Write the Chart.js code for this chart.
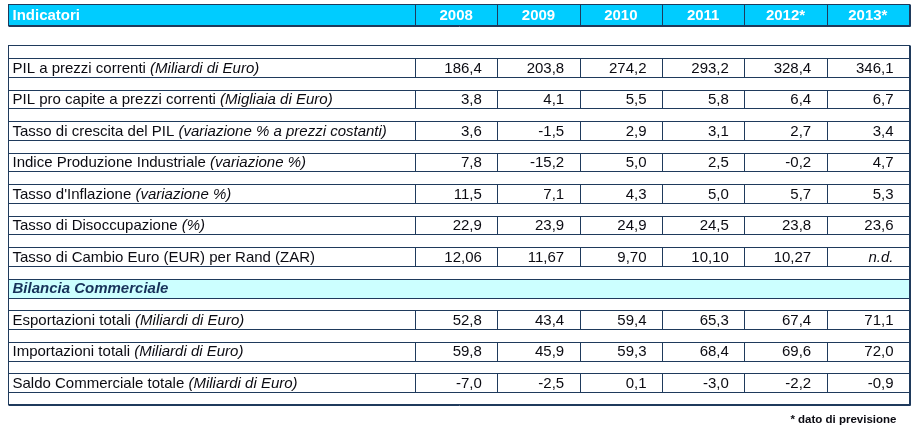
<!DOCTYPE html>
<html>
<head>
<meta charset="utf-8">
<title>Indicatori</title>
<script src="https://cdn.jsdelivr.net/npm/chart.js@4/dist/chart.umd.min.js"></script>
<style>
  html, body { margin: 0; padding: 0; background: #fff; }
  #wrap { width: 920px; height: 432px; }
</style>
</head>
<body>
<div id="wrap"><canvas id="tbl" width="920" height="432"></canvas></div>
<script>
// Indicatori economici — tabella disegnata sulle scale di Chart.js
const years = ['2008', '2009', '2010', '2011', '2012*', '2013*'];

const pilCorrenti    = [186.4, 203.8, 274.2, 293.2, 328.4, 346.1];
const pilProCapite   = [3.8, 4.1, 5.5, 5.8, 6.4, 6.7];
const crescitaPil    = [3.6, -1.5, 2.9, 3.1, 2.7, 3.4];
const produzioneInd  = [7.8, -15.2, 5.0, 2.5, -0.2, 4.7];
const inflazione     = [11.5, 7.1, 4.3, 5.0, 5.7, 5.3];
const disoccupazione = [22.9, 23.9, 24.9, 24.5, 23.8, 23.6];
const cambioEurZar   = [12.06, 11.67, 9.70, 10.10, 10.27, null];
const esportazioni   = [52.8, 43.4, 59.4, 65.3, 67.4, 71.1];
const importazioni   = [59.8, 45.9, 59.3, 68.4, 69.6, 72.0];
const saldo          = [-7.0, -2.5, 0.1, -3.0, -2.2, -0.9];

const rows = [
  { label: 'PIL a prezzi correnti', unit: '(Miliardi di Euro)', values: pilCorrenti, dec: 1 },
  { label: 'PIL pro capite a prezzi correnti', unit: '(Migliaia di Euro)', values: pilProCapite, dec: 1 },
  { label: 'Tasso di crescita del PIL', unit: '(variazione % a prezzi costanti)', values: crescitaPil, dec: 1 },
  { label: 'Indice Produzione Industriale', unit: '(variazione %)', values: produzioneInd, dec: 1 },
  { label: "Tasso d'Inflazione", unit: '(variazione %)', values: inflazione, dec: 1 },
  { label: 'Tasso di Disoccupazione', unit: '(%)', values: disoccupazione, dec: 1 },
  { label: 'Tasso di Cambio Euro (EUR) per Rand (ZAR)', unit: '', values: cambioEurZar, dec: 2 },
  { section: 'Bilancia Commerciale' },
  { label: 'Esportazioni totali', unit: '(Miliardi di Euro)', values: esportazioni, dec: 1 },
  { label: 'Importazioni totali', unit: '(Miliardi di Euro)', values: importazioni, dec: 1 },
  { label: 'Saldo Commerciale totale', unit: '(Miliardi di Euro)', values: saldo, dec: 1 }
];

// layout in axis units: a year column is 1 unit wide, a table line is 1 unit high
const LABEL_W = 4.944;
const ROW_H = 0.3;           // half height of a data row
const HEADER_Y = -1.68, HEADER_H = 0.335;
const BODY_TOP = -0.714, BODY_BOTTOM = 10.68;

const FONT = '"Liberation Sans", Arial, Helvetica, sans-serif';
const NAVY = '#1f3a5c';
const CYAN = '#00ccff';
const PALE = '#ccffff';
const INK = '#0b0b12';

function fmt(v, dec) {
  if (v === null) return 'n.d.';
  return v.toFixed(dec).replace('.', ',');
}

const tablePlugin = {
  id: 'tablePlugin',
  afterDraw(chart) {
    const ctx = chart.ctx;
    const X = v => chart.scales.x.getPixelForValue(v);
    const Y = v => chart.scales.y.getPixelForValue(v);
    const px = v => Math.round(v) + 0.5;
    const edges = [0, LABEL_W];
    years.forEach((y, j) => edges.push(LABEL_W + j + 1));
    const left = px(X(0)), right = px(X(edges[edges.length - 1]));

    ctx.save();
    ctx.lineWidth = 1;
    ctx.strokeStyle = NAVY;

    const hline = (y, x0, x1) => { ctx.beginPath(); ctx.moveTo(x0, y); ctx.lineTo(x1, y); ctx.stroke(); };
    const vline = (x, y0, y1) => { ctx.beginPath(); ctx.moveTo(x, y0); ctx.lineTo(x, y1); ctx.stroke(); };

    // header band
    const hTop = px(Y(HEADER_Y - HEADER_H)), hBot = px(Y(HEADER_Y + HEADER_H));
    ctx.fillStyle = CYAN;
    ctx.fillRect(left, hTop, right - left, hBot - hTop);
    ctx.strokeRect(left, hTop, right - left, hBot - hTop);
    hline(hBot + 1, left, right + 1);
    vline(right + 1, hTop, hBot + 1);
    for (let k = 1; k < edges.length - 1; k++) vline(px(X(edges[k])), hTop, hBot);

    ctx.fillStyle = '#fff';
    ctx.textBaseline = 'middle';
    ctx.font = 'bold 15px ' + FONT;
    const hMid = Y(HEADER_Y) + 1;
    ctx.textAlign = 'left';
    ctx.fillText('Indicatori', left + 4, hMid);
    ctx.textAlign = 'center';
    years.forEach((y, j) => ctx.fillText(y, X(LABEL_W + j + 0.5), hMid));

    // body
    const bTop = px(Y(BODY_TOP)), bBot = px(Y(BODY_BOTTOM));
    rows.forEach((r, i) => {
      if (!r.section) return;
      ctx.fillStyle = PALE;
      const y0 = px(Y(i - ROW_H)), y1 = px(Y(i + ROW_H));
      ctx.fillRect(left, y0, right - left, y1 - y0);
    });
    ctx.strokeRect(left, bTop, right - left, bBot - bTop);
    hline(bBot + 1, left, right + 1);
    vline(right + 1, bTop, bBot + 1);

    rows.forEach((r, i) => {
      const y0 = px(Y(i - ROW_H)), y1 = px(Y(i + ROW_H));
      const mid = Y(i) + 1;
      hline(y0, left, right);
      hline(y1, left, right);
      ctx.textBaseline = 'middle';
      ctx.textAlign = 'left';
      if (r.section) {
        ctx.fillStyle = '#17325a';
        ctx.font = 'italic bold 15px ' + FONT;
        ctx.fillText(r.section, left + 4, mid);
        return;
      }
      for (let k = 1; k < edges.length - 1; k++) vline(px(X(edges[k])), y0, y1);
      ctx.fillStyle = INK;
      ctx.font = '15px ' + FONT;
      ctx.fillText(r.label, left + 4, mid);
      if (r.unit) {
        const w = ctx.measureText(r.label + ' ').width;
        ctx.font = 'italic 15px ' + FONT;
        ctx.fillText(r.unit, left + 4 + w, mid);
      }
      ctx.textAlign = 'right';
      r.values.forEach((v, j) => {
        ctx.font = (v === null ? 'italic ' : '') + '15px ' + FONT;
        ctx.fillText(fmt(v, r.dec), X(LABEL_W + j + 1) - 15.5, mid);
      });
    });

    // footnote
    ctx.fillStyle = INK;
    ctx.font = 'bold 11.5px ' + FONT;
    ctx.textAlign = 'right';
    ctx.fillText('* dato di previsione', right - 13, bBot + 15);
    ctx.restore();
  }
};

new Chart(document.getElementById('tbl'), {
  type: 'scatter',
  data: { datasets: [] },
  options: {
    responsive: false,
    devicePixelRatio: 1,
    animation: false,
    layout: { padding: { left: 8, right: 11, top: 4, bottom: 28 } },
    plugins: { legend: { display: false }, tooltip: { enabled: false } },
    scales: {
      x: { type: 'linear', display: false, min: 0, max: LABEL_W + years.length },
      y: { type: 'linear', display: false, reverse: true, min: HEADER_Y - HEADER_H, max: BODY_BOTTOM }
    }
  },
  plugins: [tablePlugin]
});
</script>
</body>
</html>
